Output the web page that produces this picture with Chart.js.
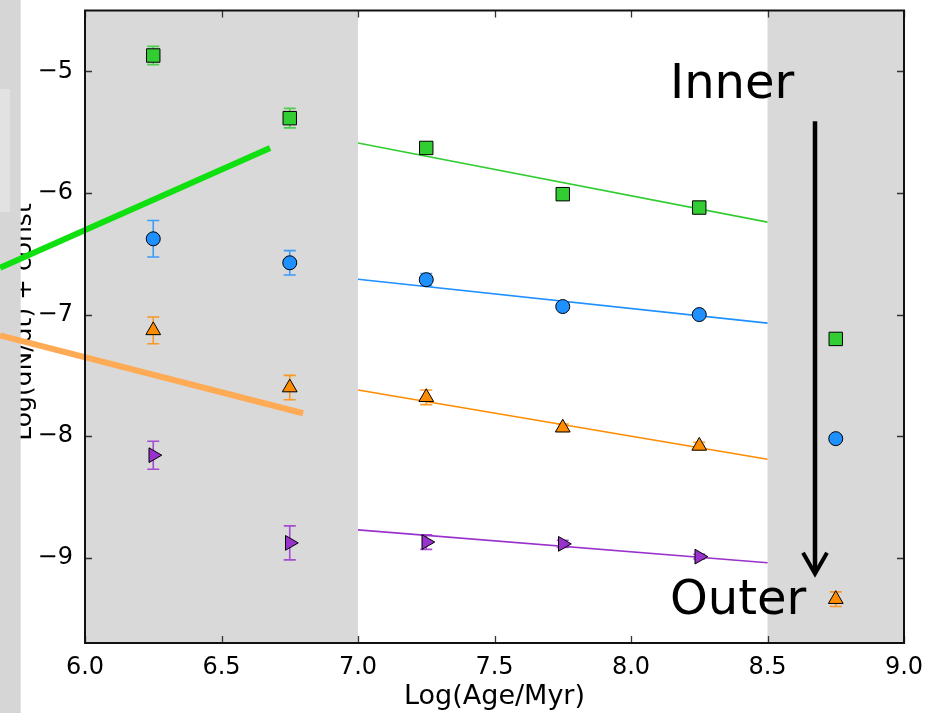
<!DOCTYPE html>
<html><head><meta charset="utf-8">
<script src="https://cdn.jsdelivr.net/npm/chart.js@4.4.0/dist/chart.umd.min.js"></script>
<style>html,body{margin:0;padding:0;background:#fff}#wrap{width:929px;height:713px}</style>
</head><body><div id="wrap"><canvas id="c" width="929" height="713"></canvas></div>
<script>
// ---- data ----
const ages = [6.25, 6.75, 7.25, 7.75, 8.25, 8.75];
const innerVals = [-4.87, -5.385, -5.63, -6.01, -6.12, -7.20];
const innerErr  = [0.075, 0.08, 0.03, 0.02, 0.02, 0.03];
const midVals   = [-6.377, -6.574, -6.713, -6.934, -7.0, -8.02];
const midErr    = [0.15, 0.10, 0.05, 0.02, 0.02, 0.02];
const outerVals = [-7.13, -7.60, -7.68, -7.93, -8.08, -9.34];
const outerErr  = [0.11, 0.10, 0.06, 0.03, 0.03, 0.06];
const edgeAges  = [6.25, 6.75, 7.25, 7.75, 8.25];
const edgeVals  = [-8.156, -8.877, -8.87, -8.885, -8.99];
const edgeErr   = [0.115, 0.14, 0.06, 0.03, 0.02];
const fitAges   = [7.0, 8.5];
const innerFit  = [-5.59, -6.24];
const midFit    = [-6.71, -7.07];
const outerFit  = [-7.62, -8.19];
const edgeFit   = [-8.77, -9.04];
const greenTrendAges  = [5.689, 6.678];
const greenTrend      = [-6.615, -5.631];
const orangeTrendAges = [5.689, 6.799];
const orangeTrend     = [-7.172, -7.811];
const shadedRanges = [[6.0, 7.0], [8.5, 9.0]];
const xTicks = [6.0, 6.5, 7.0, 7.5, 8.0, 8.5, 9.0];
const yTicks = [-9, -8, -7, -6, -5];
const xRange = [6.0, 9.0];
const yRange = [-9.7, -4.5];
const arrowAge = 8.674;
const arrowFromTo = [-5.41, -9.13];
const labelInner = {text: 'Inner', x: 8.143, y: -5.221};
const labelOuter = {text: 'Outer', x: 8.143, y: -9.459};

const GREEN = '#32cd32', BLUE = '#1e90ff', ORANGE = '#ff8c00', PURPLE = '#9932cc';
const pts = (xs, ys) => xs.map((v, i) => ({x: v, y: ys[i]}));

function markerSet(xs, ys, errs, color, style, radius, rot) {
  return {type: 'scatter', data: pts(xs, ys), errors: errs, errColor: color,
    backgroundColor: color, borderColor: '#000', borderWidth: 1,
    pointStyle: style, pointRadius: radius, pointRotation: rot || 0, showLine: false, order: 0};
}
function lineSet(xs, ys, color, width, clip) {
  return {type: 'scatter', data: pts(xs, ys), borderColor: color, backgroundColor: color,
    borderWidth: width, showLine: true, pointRadius: 0, clip: clip, order: 1, borderCapStyle: 'butt'};
}

const datasets = [
  lineSet(fitAges, innerFit, GREEN, 1.6, 0),
  lineSet(fitAges, midFit, BLUE, 1.6, 0),
  lineSet(fitAges, outerFit, ORANGE, 1.6, 0),
  lineSet(fitAges, edgeFit, PURPLE, 1.6, 0),
  lineSet(greenTrendAges, greenTrend, '#10e010', 6, false),
  lineSet(orangeTrendAges, orangeTrend, '#ffaa55', 6, false),
  markerSet(ages, innerVals, innerErr, GREEN, 'rect', 9.5),
  markerSet(ages, midVals, midErr, BLUE, 'circle', 7),
  markerSet(ages, outerVals, outerErr, ORANGE, 'triangle', 8.5),
  markerSet(edgeAges, edgeVals, edgeErr, PURPLE, 'triangle', 8.5, 90),
];

const FONT = '"DejaVu Sans", sans-serif';

const decor = {
  id: 'decor',
  beforeDatasetsDraw(chart) {
    const {ctx, chartArea: a, scales: {x, y}} = chart;
    ctx.save();
    ctx.fillStyle = '#d9d9d9';
    shadedRanges.forEach(([s, e]) => {
      const x0 = x.getPixelForValue(s), x1 = x.getPixelForValue(e);
      ctx.fillRect(x0, a.top, x1 - x0, a.bottom - a.top);
    });
    // y axis title
    ctx.save();
    ctx.translate(31, 322);
    ctx.rotate(-Math.PI / 2);
    ctx.font = '25px ' + FONT;
    ctx.textAlign = 'center';
    ctx.textBaseline = 'alphabetic';
    ctx.fillStyle = '#000';
    ctx.fillText('Log(dN/dt) + const', 0, 0);
    ctx.restore();
    // left strip of the page
    ctx.fillStyle = '#d6d6d6';
    ctx.fillRect(0, 0, 20.7, chart.height);
    ctx.fillStyle = '#e2e2e2';
    ctx.fillRect(0, 89, 10, 123);
    // error bars
    chart.data.datasets.forEach((ds, di) => {
      if (!ds.errors || !chart.isDatasetVisible(di)) return;
      ctx.strokeStyle = ds.errColor;
      ctx.globalAlpha = 0.85;
      ctx.lineWidth = 1.6;
      ds.data.forEach((p, i) => {
        const px = x.getPixelForValue(p.x);
        const y0 = y.getPixelForValue(p.y - ds.errors[i]);
        const y1 = y.getPixelForValue(p.y + ds.errors[i]);
        ctx.beginPath();
        ctx.moveTo(px, y0); ctx.lineTo(px, y1);
        ctx.moveTo(px - 6, y0); ctx.lineTo(px + 6, y0);
        ctx.moveTo(px - 6, y1); ctx.lineTo(px + 6, y1);
        ctx.stroke();
      });
      ctx.globalAlpha = 1;
    });
    ctx.restore();
  },
  afterDatasetsDraw(chart) {
    const {ctx, scales: {x, y}} = chart;
    ctx.save();
    // arrow
    const ax = x.getPixelForValue(arrowAge);
    const ay0 = y.getPixelForValue(arrowFromTo[0]);
    const ay1 = y.getPixelForValue(arrowFromTo[1]);
    ctx.strokeStyle = '#000';
    ctx.lineWidth = 4.5;
    ctx.lineCap = 'butt';
    ctx.beginPath(); ctx.moveTo(ax, ay0); ctx.lineTo(ax, ay1 - 2); ctx.stroke();
    ctx.lineJoin = 'miter';
    ctx.lineWidth = 4;
    ctx.beginPath();
    ctx.moveTo(ax - 12, ay1 - 21); ctx.lineTo(ax, ay1); ctx.lineTo(ax + 12, ay1 - 21);
    ctx.stroke();
    // labels
    ctx.fillStyle = '#000';
    ctx.font = '48px ' + FONT;
    ctx.textAlign = 'left';
    ctx.textBaseline = 'alphabetic';
    [labelInner, labelOuter].forEach(l => ctx.fillText(l.text, x.getPixelForValue(l.x), y.getPixelForValue(l.y)));
    ctx.restore();
  },
  afterDraw(chart) {
    const {ctx, chartArea: a, scales: {x, y}} = chart;
    ctx.save();
    ctx.strokeStyle = '#333';
    ctx.lineWidth = 1.3;
    ctx.beginPath();
    yTicks.forEach(v => {
      const py = Math.round(y.getPixelForValue(v)) + 0.5;
      ctx.moveTo(a.left, py); ctx.lineTo(a.left + 7, py);
      ctx.moveTo(a.right, py); ctx.lineTo(a.right - 7, py);
    });
    xTicks.forEach(v => {
      const px = Math.round(x.getPixelForValue(v)) + 0.5;
      ctx.moveTo(px, a.bottom); ctx.lineTo(px, a.bottom - 7);
      ctx.moveTo(px, a.top); ctx.lineTo(px, a.top + 7);
    });
    ctx.stroke();
    ctx.strokeStyle = '#111';
    ctx.lineWidth = 2;
    ctx.strokeRect(a.left, a.top, a.right - a.left, a.bottom - a.top);
    // x title
    ctx.fillStyle = '#000';
    ctx.font = '27px ' + FONT;
    ctx.textAlign = 'center';
    ctx.textBaseline = 'alphabetic';
    ctx.fillText('Log(Age/Myr)', (a.left + a.right) / 2, 704);
    ctx.restore();
  }
};

new Chart(document.getElementById('c'), {
  type: 'scatter',
  data: {datasets},
  options: {
    responsive: false, animation: false, devicePixelRatio: 1,
    layout: {padding: {left: 0, top: 8, right: 25, bottom: 0}},
    plugins: {legend: {display: false}, tooltip: {enabled: false}},
    scales: {
      x: {
        type: 'linear', min: xRange[0], max: xRange[1],
        afterBuildTicks: s => { s.ticks = xTicks.map(v => ({value: v})); },
        afterFit: s => { s.height = 70; s.paddingLeft = 0; s.paddingRight = 0; s.paddingTop = 0; s.paddingBottom = 0; },
        grid: {display: false}, border: {display: false},
        ticks: {color: '#000', font: {family: FONT, size: 24}, padding: 2,
          maxRotation: 0, autoSkip: false, callback: v => Number(v).toFixed(1)}
      },
      y: {
        type: 'linear', min: yRange[0], max: yRange[1],
        afterBuildTicks: s => { s.ticks = yTicks.map(v => ({value: v})); },
        afterFit: s => { s.width = 85; s.paddingTop = 0; s.paddingBottom = 0; s.paddingLeft = 0; s.paddingRight = 0; },
        grid: {display: false}, border: {display: false},
        ticks: {color: '#000', font: {family: FONT, size: 24}, padding: 4,
          autoSkip: false, callback: v => (v < 0 ? '\u2212' : '') + Math.abs(v)}
      }
    }
  },
  plugins: [decor]
});
</script>
</body></html>
